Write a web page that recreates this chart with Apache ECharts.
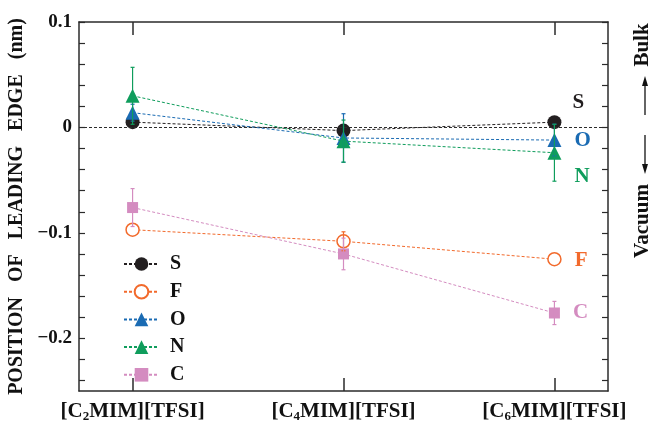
<!DOCTYPE html>
<html>
<head>
<meta charset="utf-8">
<script src="https://cdn.jsdelivr.net/npm/echarts@6/dist/echarts.min.js"></script>
<style>
  html, body { margin: 0; background: #fff; }
  #chart { width: 653px; height: 422px; }
</style>
</head>
<body>
<div id="chart"></div>
<script>
// ionic liquids on the x axis
const categories = ["[C2MIM][TFSI]", "[C4MIM][TFSI]", "[C6MIM][TFSI]"];
const xPos = [0, 1, 2];

// leading edge position (nm) per element
const sVals = [0.005, -0.003, 0.005];
const fVals = [-0.097, -0.108, -0.125];
const oVals = [0.014, -0.010, -0.012];
const nVals = [0.030, -0.013, -0.024];
const cVals = [-0.076, -0.120, -0.176];

// error bars (half length), 0 = hidden under the marker
const sErr = [0, 0, 0];
const fErr = [0, 0.009, 0];
const oErr = [0.008, 0.023, 0.015];
const nErr = [0.027, 0.020, 0.027];
const cErr = [0.018, 0.015, 0.011];

const yLabelValues = [0.1, 0, -0.1, -0.2];
const yTickValues = [0.1, 0.08, 0.06, 0.04, 0.02, 0, -0.02, -0.04, -0.06, -0.08, -0.1,
  -0.12, -0.14, -0.16, -0.18, -0.2, -0.22, -0.24];

const FONT = "Liberation Serif";
const AXIS = "#2b2b2b";

// element, values, errors, color, symbol, size, filled, label offset
const elements = [
  { name: "S", vals: sVals, err: sErr, color: "#231f20", symbol: "circle", size: 14, fill: true, off: [6, -20] },
  { name: "F", vals: fVals, err: fErr, color: "#f26a2c", symbol: "circle", size: 13, fill: false, off: [8, 1] },
  { name: "O", vals: oVals, err: oErr, color: "#1a6bb3", symbol: "triangle", size: 14, fill: true, off: [8, 0] },
  { name: "N", vals: nVals, err: nErr, color: "#0f9d5c", symbol: "triangle", size: 14, fill: true, off: [8, 24] },
  { name: "C", vals: cVals, err: cErr, color: "#d48cc0", symbol: "rect", size: 11, fill: true, off: [8, 0] },
];

const lineSeries = elements.map((el, k) => ({
  name: el.name,
  type: "line",
  xAxisIndex: 0,
  yAxisIndex: 0,
  symbol: el.symbol,
  symbolSize: el.size,
  z: 3 + k,
  lineStyle: { color: el.color, width: 1, type: [3, 2] },
  itemStyle: {
    color: el.fill ? el.color : "#fff",
    borderColor: el.color,
    borderWidth: el.fill ? 0 : 1.5,
  },
  data: el.vals.map((v, i) => {
    const item = { value: [xPos[i], v] };
    if (i === el.vals.length - 1) {
      item.label = {
        show: true,
        position: "right",
        offset: el.off,
        formatter: el.name,
        color: el.color,
        fontFamily: FONT,
        fontWeight: "bold",
        fontSize: 21,
      };
    }
    return item;
  }),
  markLine: k === 0 ? {
    silent: true,
    symbol: "none",
    label: { show: false },
    lineStyle: { color: AXIS, width: 1, type: [3, 2] },
    data: [{ yAxis: 0 }],
  } : undefined,
}));

const errSeries = elements.map((el, k) => ({
  name: el.name + "-err",
  type: "custom",
  z: 10 + k,
  silent: true,
  data: el.vals.map((v, i) => [xPos[i], v, el.err[i]]).filter((d) => d[2] > 0),
  renderItem: (params, api) => {
    const x = api.value(0), y = api.value(1), e = api.value(2);
    const top = api.coord([x, y + e]);
    const bot = api.coord([x, y - e]);
    const st = { stroke: el.color, lineWidth: 1.2 };
    return {
      type: "group",
      children: [
        { type: "line", shape: { x1: top[0], y1: top[1], x2: bot[0], y2: bot[1] }, style: st },
        { type: "line", shape: { x1: top[0] - 2, y1: top[1], x2: top[0] + 2, y2: top[1] }, style: st },
        { type: "line", shape: { x1: bot[0] - 2, y1: bot[1], x2: bot[0] + 2, y2: bot[1] }, style: st },
      ],
    };
  },
}));

const xCommon = {
  type: "value",
  min: -0.254,
  max: 2.254,
  axisLine: { show: true, onZero: false, lineStyle: { color: AXIS, width: 1.5 } },
  splitLine: { show: false },
};
const yCommon = {
  type: "value",
  min: -0.25,
  max: 0.1,
  axisLine: { show: true, onZero: false, lineStyle: { color: AXIS, width: 1.5 } },
  splitLine: { show: false },
  axisTick: { show: true, inside: true, length: 6, customValues: yTickValues, lineStyle: { color: AXIS, width: 1.2 } },
};

const chart = echarts.init(document.getElementById("chart"));
chart.setOption({
  animation: false,
  backgroundColor: "#fff",
  grid: { left: 79, right: 45, top: 22, bottom: 31, containLabel: false, outerBoundsMode: "none" },
  legend: {
    orient: "vertical",
    left: 118,
    top: 249,
    itemWidth: 35,
    itemHeight: 17,
    itemGap: 7.7,
    data: elements.map((el) => el.name),
    textStyle: { fontFamily: FONT, fontWeight: "bold", fontSize: 20, color: "#111", padding: [0, 0, 0, 6] },
  },
  xAxis: [
    Object.assign({}, xCommon, {
      position: "bottom",
      axisTick: { show: true, inside: true, length: 13, customValues: xPos, lineStyle: { color: AXIS, width: 1.5 } },
      axisLabel: {
        customValues: xPos,
        margin: 10,
        formatter: (v) => {
          const name = categories[Math.round(v)];
          const m = name.match(/^\[C(\d)(.*)$/);
          return "{a|[C}{s|" + m[1] + "}{a|" + m[2] + "}";
        },
        rich: {
          a: { fontFamily: FONT, fontWeight: "bold", fontSize: 21, color: "#111" },
          s: { fontFamily: FONT, fontWeight: "bold", fontSize: 13, color: "#111", padding: [9, 0, 0, 0] },
        },
      },
    }),
    Object.assign({}, xCommon, {
      position: "top",
      axisTick: { show: true, inside: true, length: 13, customValues: xPos, lineStyle: { color: AXIS, width: 1.5 } },
      axisLabel: { show: false },
    }),
  ],
  yAxis: [
    Object.assign({}, yCommon, {
      position: "left",
      name: "POSITION   OF   LEADING   EDGE   (nm)",
      nameLocation: "middle",
      nameGap: 52,
      nameTextStyle: { fontFamily: FONT, fontWeight: "bold", fontSize: 20, color: "#111" },
      axisLabel: {
        customValues: yLabelValues,
        margin: 7,
        fontFamily: FONT,
        fontWeight: "bold",
        fontSize: 19,
        color: "#111",
        formatter: (v) => (v === 0 ? "0" : (v < 0 ? "\u2212" : "") + Math.abs(v).toFixed(1)),
      },
    }),
    Object.assign({}, yCommon, {
      position: "right",
      axisLabel: { show: false },
    }),
  ],
  graphic: [
    { type: "text", x: 643, y: 45, rotation: Math.PI / 2, style: { text: "Bulk", font: "bold 21px '" + FONT + "'", fill: "#111", align: "center", verticalAlign: "middle" } },
    { type: "text", x: 643, y: 221, rotation: Math.PI / 2, style: { text: "Vacuum", font: "bold 21px '" + FONT + "'", fill: "#111", align: "center", verticalAlign: "middle" } },
    { type: "line", shape: { x1: 645, y1: 115, x2: 645, y2: 82 }, style: { stroke: "#111", lineWidth: 1.3 } },
    { type: "polygon", shape: { points: [[645, 76], [642, 86], [648, 86]] }, style: { fill: "#111" } },
    { type: "line", shape: { x1: 645, y1: 135, x2: 645, y2: 166 }, style: { stroke: "#111", lineWidth: 1.3 } },
    { type: "polygon", shape: { points: [[645, 174], [642, 164], [648, 164]] }, style: { fill: "#111" } },
  ],
  series: lineSeries.concat(errSeries),
});
</script>
</body>
</html>
